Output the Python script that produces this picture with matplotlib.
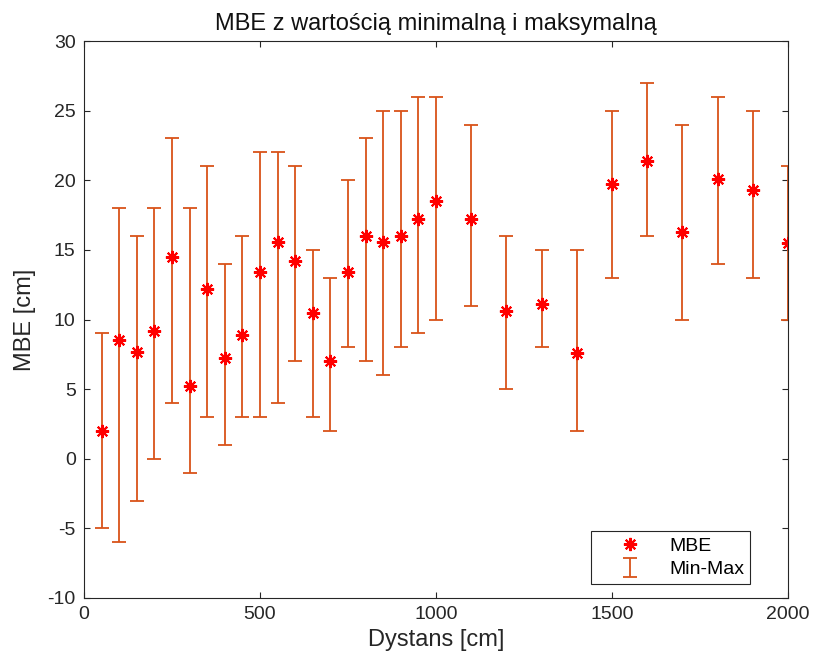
import numpy as np
import matplotlib.pyplot as plt

plt.rcParams['font.family'] = ['Liberation Sans', 'DejaVu Sans']
plt.rcParams['axes.unicode_minus'] = False

# distance [cm], MBE and min/max values [cm]
dystans = [50, 100, 150, 200, 250, 300, 350, 400, 450, 500,
           550, 600, 650, 700, 750, 800, 850, 900, 950, 1000,
           1100, 1200, 1300, 1400, 1500, 1600, 1700, 1800, 1900, 2000]
mbe = [2.0, 8.5, 7.7, 9.2, 14.5, 5.2, 12.2, 7.2, 8.9, 13.4,
       15.6, 14.2, 10.5, 7.0, 13.4, 16.0, 15.6, 16.0, 17.2, 18.5,
       17.2, 10.6, 11.1, 7.6, 19.7, 21.4, 16.3, 20.1, 19.3, 15.5]
mbe_min = [-5, -6, -3, 0, 4, -1, 3, 1, 3, 3,
           4, 7, 3, 2, 8, 7, 6, 8, 9, 10,
           11, 5, 8, 2, 13, 16, 10, 14, 13, 10]
mbe_max = [9, 18, 16, 18, 23, 18, 21, 14, 16, 22,
           22, 21, 15, 13, 20, 23, 25, 25, 26, 26,
           24, 16, 15, 15, 25, 27, 24, 26, 25, 21]

x = np.array(dystans)
y = np.array(mbe)
err = [y - np.array(mbe_min), np.array(mbe_max) - y]

fig = plt.figure(figsize=(8.14, 6.66), dpi=100)
ax = fig.add_axes([84/814, 1 - 598/666, 704/814, 557/666])

eb = ax.errorbar(x, y, yerr=err, fmt='none', ecolor='#D95319',
                 elinewidth=1.3, capsize=4.7, capthick=1.3, label='Min-Max')
pts, = ax.plot(x, y, linestyle='none', marker=(8, 2, 0), markersize=9.5,
               markeredgewidth=1.5, color='red', markeredgecolor='red', label='MBE')

ax.set_xlim(0, 2000)
ax.set_ylim(-10, 30)
ax.set_xticks([0, 500, 1000, 1500, 2000])
ax.set_yticks(np.arange(-10, 31, 5))
ax.tick_params(direction='in', top=True, right=True, labelsize=14,
               length=4.5, width=0.8, color='#262626', labelcolor='#262626', pad=6)
for s in ax.spines.values():
    s.set_color('#262626')
    s.set_linewidth(0.8)

ax.set_title('MBE z wartością minimalną i maksymalną', fontsize=17, color='#111111', pad=8)
ax.set_xlabel('Dystans [cm]', fontsize=17, color='#262626', labelpad=4)
ax.set_ylabel('MBE [cm]', fontsize=17, color='#262626', labelpad=8)

leg = ax.legend([pts, eb], ['MBE', 'Min-Max'], loc='lower right', fontsize=14,
                bbox_to_anchor=(0.946, 0.025), borderaxespad=0,
                fancybox=False, edgecolor='#262626', framealpha=1,
                borderpad=0.3, handlelength=3.4, handletextpad=0.3, labelspacing=0.3)
leg.get_frame().set_linewidth(0.8)

fig.savefig('out.png', dpi=100)
